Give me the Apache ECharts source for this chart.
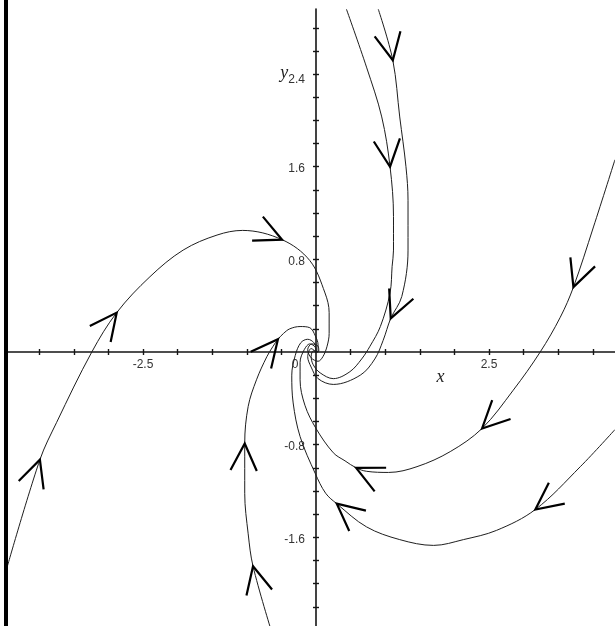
<!DOCTYPE html>
<html><head><meta charset="utf-8">
<script src="https://cdn.jsdelivr.net/npm/echarts@6/dist/echarts.min.js"></script>
<style>html,body{margin:0;padding:0;background:#fff}#c{width:615px;height:626px}</style>
</head><body><div id="c"></div>
<script>
// ---- axis extents and tick / label values ----
const xRange = [-4.451, 4.321];
const yRange = [-2.366, 2.962];
const xTickValues = [-4, -3.5, -3, -2.5, -2, -1.5, -1, -0.5, 0.5, 1, 1.5, 2, 2.5, 3, 3.5, 4];
const yTickValues = [-2.2, -2.0, -1.8, -1.6, -1.4, -1.2, -1.0, -0.8, -0.6, -0.4, -0.2,
                     0.2, 0.4, 0.6, 0.8, 1.0, 1.2, 1.4, 1.6, 1.8, 2.0, 2.2, 2.4, 2.6, 2.8];
const xLabelValues = [-2.5, 0, 2.5];
const yLabelValues = [2.4, 1.6, 0.8, -0.8, -1.6];
const xAxisName = 'x';
const xAxisNameAt = 1.8;
const yAxisName = 'y';
const yAxisNameAt = 2.4;

// ---- trajectories (x, y) ----
const traj1 = [
  [-4.46, -1.85], [-3.99, -0.93], [-3.75, -0.61], [-3.24, 0.00], [-2.88, 0.34],
  [-2.40, 0.65], [-1.92, 0.88], [-1.43, 1.01], [-1.06, 1.05], [-0.49, 0.97],
  [-0.09, 0.79], [0.13, 0.51], [0.19, 0.34], [0.19, 0.16], [0.16, 0.05],
  [0.10, -0.04], [0.03, -0.08], [-0.07, -0.05], [-0.12, 0.02], [-0.06, 0.07],
  [0.03, 0.05], [0.04, 0.01], [0, 0]
];
const traj2a = [
  [0.44, 2.96], [0.73, 2.46], [0.95, 2.03], [1.07, 1.60], [1.12, 1.17],
  [1.12, 0.88], [1.10, 0.74], [1.07, 0.51], [0.93, 0.22], [0.78, 0.05],
  [0.66, -0.06], [0.49, -0.17], [0.25, -0.23], [0.06, -0.18], [-0.04, -0.11],
  [-0.07, -0.04], [-0.04, 0.01], [0, 0]
];
const traj2b = [
  [0.90, 2.96], [1.11, 2.52], [1.21, 2.03], [1.30, 1.60], [1.33, 1.31],
  [1.33, 0.88], [1.24, 0.48], [1.08, 0.29], [0.97, 0.10], [0.85, -0.06],
  [0.64, -0.20], [0.25, -0.28], [0.03, -0.23], [-0.07, -0.13], [-0.12, -0.04],
  [-0.07, 0.03], [0, 0]
];
const traj3 = [
  [4.32, 1.66], [4.01, 1.08], [3.72, 0.56], [3.53, 0.30], [3.24, 0.00],
  [2.85, -0.33], [2.40, -0.66], [1.94, -0.86], [1.46, -0.99], [1.05, -1.04],
  [0.73, -1.03], [0.58, -1.00], [0.42, -0.94], [0.25, -0.87], [0, -0.66],
  [-0.16, -0.46], [-0.23, -0.24], [-0.23, -0.09], [-0.17, 0.02], [-0.09, 0.07],
  [-0.01, 0.04], [0, 0]
];
const traj4 = [
  [4.32, -0.67], [3.82, -0.99], [3.17, -1.36], [2.61, -1.54], [2.13, -1.62],
  [1.70, -1.67], [1.21, -1.62], [0.73, -1.51], [0.30, -1.31], [0.14, -1.22],
  [-0.01, -1.05], [-0.23, -0.73], [-0.33, -0.44], [-0.35, -0.20], [-0.30, -0.03],
  [-0.22, 0.08], [-0.12, 0.11], [-0.03, 0.08], [0, 0.02], [0, 0]
];
const traj5 = [
  [-0.65, -2.40], [-0.91, -1.85], [-0.98, -1.57], [-1.03, -1.22], [-1.03, -0.79],
  [-0.98, -0.47], [-0.86, -0.24], [-0.71, -0.04], [-0.62, 0.05], [-0.55, 0.11],
  [-0.47, 0.16], [-0.38, 0.20], [-0.23, 0.22], [-0.09, 0.21], [-0.01, 0.14],
  [0.03, 0.06], [0.03, 0.00], [0, 0]
];

// ---- where the direction arrows sit (index of the tip point on each trajectory) ----
const arrows1 = [1, 4, 9];
const arrows2a = [3];
const arrows2b = [1, 7];
const arrows3 = [2, 6, 11];
const arrows4 = [2, 8];
const arrows5 = [1, 4, 9];

const trajectories = [traj1, traj2a, traj2b, traj3, traj4, traj5];
const arrowSets = [arrows1, arrows2a, arrows2b, arrows3, arrows4, arrows5];

const arrowData = [];
trajectories.forEach(function (t, k) {
  arrowSets[k].forEach(function (i) {
    arrowData.push([t[i][0], t[i][1], t[i - 1][0], t[i - 1][1], t[i + 1][0], t[i + 1][1]]);
  });
});

// ---- layout ----
const W = 615, H = 626;
const G = {left: 8, right: 0, top: 9, bottom: 0};
const gw = W - G.left - G.right, gh = H - G.top - G.bottom;
const zeroX = G.left + (0 - xRange[0]) / (xRange[1] - xRange[0]) * gw;
const zeroY = G.top + (yRange[1] - 0) / (yRange[1] - yRange[0]) * gh;

const LINE = '#1e1e1e';
const AXIS = '#151515';
const LABEL = '#333';
const SANS = 'Liberation Sans, Arial, sans-serif';
const SERIF = 'Liberation Serif, Times New Roman, serif';
const near = (a, b) => Math.abs(a - b) < 1e-6;

const chart = echarts.init(document.getElementById('c'), null, {renderer: 'canvas'});

const series = trajectories.map(function (t) {
  return {
    type: 'line', data: t, smooth: 0.35, symbol: 'none', clip: true,
    xAxisIndex: 0, yAxisIndex: 0,
    lineStyle: {color: LINE, width: 1}, silent: true, z: 3
  };
});
series.push({
  type: 'custom',
  coordinateSystem: 'cartesian2d',
  xAxisIndex: 0, yAxisIndex: 0,
  data: arrowData,
  clip: false,
  silent: true,
  z: 4,
  encode: {x: [0, 2, 4], y: [1, 3, 5]},
  renderItem: function (params, api) {
    const tip = api.coord([api.value(0), api.value(1)]);
    const a = api.coord([api.value(2), api.value(3)]);
    const b = api.coord([api.value(4), api.value(5)]);
    let dx = b[0] - a[0], dy = b[1] - a[1];
    const L = Math.hypot(dx, dy) || 1; dx /= L; dy /= L;
    const len = 30, ang = 26 * Math.PI / 180;
    const bx = -dx, by = -dy, c = Math.cos(ang), s = Math.sin(ang);
    const p1 = [tip[0] + len * (bx * c - by * s), tip[1] + len * (bx * s + by * c)];
    const p2 = [tip[0] + len * (bx * c + by * s), tip[1] + len * (-bx * s + by * c)];
    return {
      type: 'polyline',
      shape: {points: [p1, tip, p2]},
      style: {stroke: '#000', lineWidth: 2.2, fill: null, lineJoin: 'miter'}
    };
  }
});

const hiddenX = (gi) => ({type: 'value', gridIndex: gi, min: xRange[0], max: xRange[1], show: false});
const hiddenY = (gi) => ({type: 'value', gridIndex: gi, min: yRange[0], max: yRange[1], show: false});
const tickStyle = {color: AXIS, width: 1.4};

const option = {
  animation: false,
  backgroundColor: '#fff',
  grid: [
    // 0: plotting area
    {left: G.left, right: G.right, top: G.top, bottom: G.bottom, outerBoundsMode: 'none', containLabel: false},
    // 1: x axis line, downward ticks and labels (bottom edge on y = 0)
    {left: G.left, right: G.right, top: G.top, height: zeroY - G.top, outerBoundsMode: 'none', containLabel: false},
    // 2: upward ticks of the x axis (top edge on y = 0)
    {left: G.left, right: G.right, top: zeroY, bottom: G.bottom, outerBoundsMode: 'none', containLabel: false},
    // 3: y axis line, left ticks and labels (left edge on x = 0)
    {left: zeroX, right: G.right, top: G.top, bottom: G.bottom, outerBoundsMode: 'none', containLabel: false},
    // 4: right-hand ticks of the y axis (right edge on x = 0)
    {left: G.left, width: zeroX - G.left, top: G.top, bottom: G.bottom, outerBoundsMode: 'none', containLabel: false}
  ],
  xAxis: [
    hiddenX(0),
    {
      type: 'value', gridIndex: 1, min: xRange[0], max: xRange[1], position: 'bottom',
      axisLine: {show: true, onZero: false, lineStyle: {color: AXIS, width: 1.6}},
      axisTick: {show: true, inside: false, length: 3, customValues: xTickValues, lineStyle: tickStyle},
      splitLine: {show: false},
      axisLabel: {
        show: true, margin: 7, customValues: xLabelValues.concat([xAxisNameAt]),
        color: LABEL, fontSize: 12, fontFamily: SANS,
        formatter: function (v) {
          if (near(v, xAxisNameAt)) return '{nm|' + xAxisName + '}';
          if (near(v, 0)) return '{z|0}';
          return String(v);
        },
        rich: {
          nm: {fontFamily: SERIF, fontStyle: 'italic', fontSize: 18, color: '#222', padding: [9, 0, 0, 0]},
          z: {fontFamily: SANS, fontSize: 12, color: LABEL, padding: [0, 42, 0, 0]}
        }
      }
    },
    {
      type: 'value', gridIndex: 2, min: xRange[0], max: xRange[1], position: 'top',
      axisLine: {show: false, onZero: false},
      axisTick: {show: true, inside: false, length: 3, customValues: xTickValues, lineStyle: tickStyle},
      splitLine: {show: false},
      axisLabel: {show: false}
    },
    hiddenX(3),
    hiddenX(4)
  ],
  yAxis: [
    hiddenY(0),
    hiddenY(1),
    hiddenY(2),
    {
      type: 'value', gridIndex: 3, min: yRange[0], max: yRange[1], position: 'left',
      axisLine: {show: true, onZero: false, lineStyle: {color: AXIS, width: 1.6}},
      axisTick: {show: true, inside: false, length: 3, customValues: yTickValues, lineStyle: tickStyle},
      splitLine: {show: false},
      axisLabel: {
        show: true, margin: 11, customValues: yLabelValues,
        color: LABEL, fontSize: 12, fontFamily: SANS, padding: [4, 0, 0, 0],
        formatter: function (v) {
          if (near(v, yAxisNameAt)) return '{v|' + yAxisName + '}{n|' + v + '}';
          return String(v);
        },
        rich: {
          v: {fontFamily: SERIF, fontStyle: 'italic', fontSize: 18, color: '#222', padding: [0, 0, 5, 0]},
          n: {fontFamily: SANS, fontSize: 12, color: LABEL, padding: [8, 0, 0, 0]}
        }
      }
    },
    {
      type: 'value', gridIndex: 4, min: yRange[0], max: yRange[1], position: 'right',
      axisLine: {show: false, onZero: false},
      axisTick: {show: true, inside: false, length: 3, customValues: yTickValues, lineStyle: tickStyle},
      splitLine: {show: false},
      axisLabel: {show: false}
    }
  ],
  graphic: [
    {type: 'rect', left: 4, top: 0, shape: {width: 4, height: H}, style: {fill: '#000'}, z: 100}
  ],
  series: series
};
chart.setOption(option);
</script>
</body></html>
